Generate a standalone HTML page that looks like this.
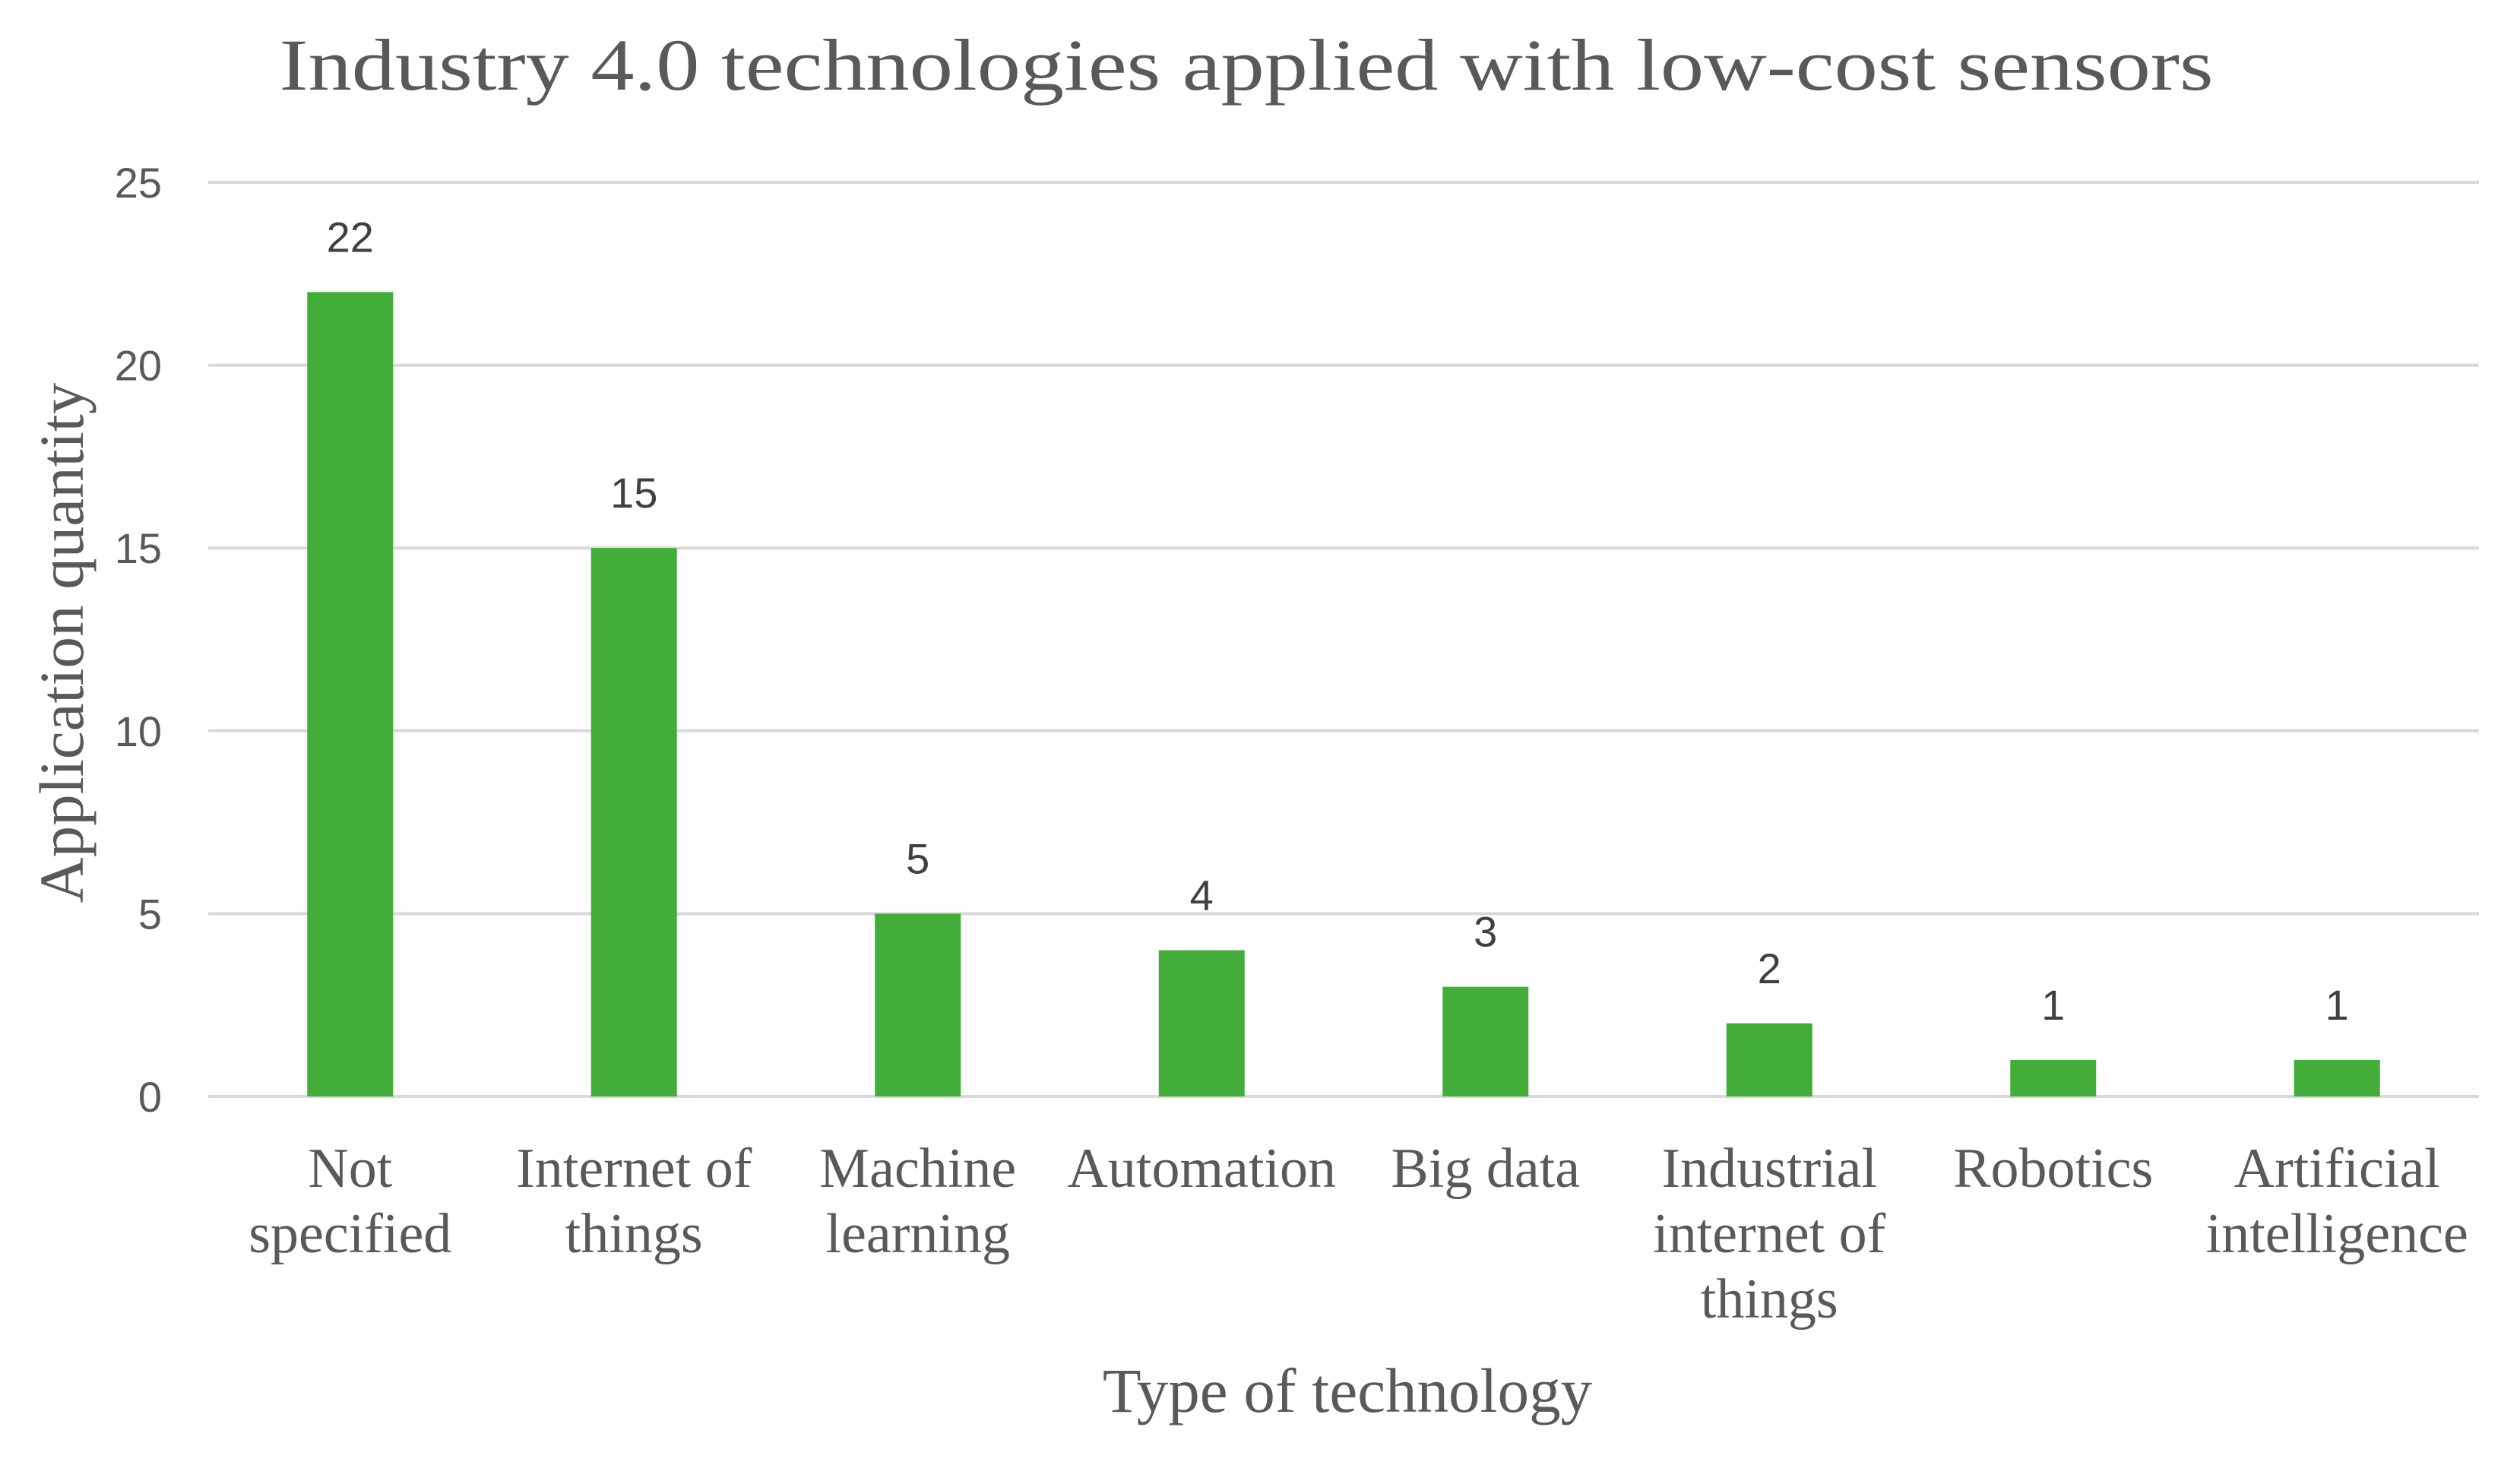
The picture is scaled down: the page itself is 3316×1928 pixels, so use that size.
<!DOCTYPE html>
<html><head><meta charset="utf-8"><style>
html,body{margin:0;padding:0;background:#fff;}
svg{display:block;}
</style></head><body>
<svg id="chart" width="3316" height="1928" viewBox="0 0 3316 1928" xmlns="http://www.w3.org/2000/svg">
<rect x="0" y="0" width="3316" height="1928" fill="#fff"/>
<text x="1640" y="118" text-anchor="middle" font-family="Liberation Serif, serif" font-size="96" fill="#595959" textLength="2545" lengthAdjust="spacingAndGlyphs">Industry 4.0 technologies applied  with low-cost sensors</text>
<g id="grid"></g>
<g id="yticks"></g>
<g id="bars"></g>
<g id="vals"></g>
<g id="xlabels"></g>
<text x="81" y="846" transform="rotate(-90 81 846)" text-anchor="middle" dominant-baseline="central" font-family="Liberation Serif, serif" font-size="83" fill="#595959">Application quantity</text>
<text x="1773" y="1858" text-anchor="middle" font-family="Liberation Serif, serif" font-size="83" fill="#595959">Type of technology</text>
</svg>
<script>
const categories = [["Not","specified"],["Internet of","things"],["Machine","learning"],["Automation"],["Big data"],["Industrial","internet of","things"],["Robotics"],["Artificial","intelligence"]];
const values = [22,15,5,4,3,2,1,1];
const yTicks = [0,5,10,15,20,25];

const NS="http://www.w3.org/2000/svg";
const left=274, right=3262, y0=1443, yTop=240, yMax=25;
function yScale(v){return y0-(v/yMax)*(y0-yTop);}
const band=(right-left)/categories.length;
function xCenter(i){return left+band*(i+0.5);}
const barW=113;
function mk(tag,attrs,parent){const e=document.createElementNS(NS,tag);for(const k in attrs)e.setAttribute(k,attrs[k]);parent.appendChild(e);return e;}
const grid=document.getElementById('grid'),yt=document.getElementById('yticks'),bars=document.getElementById('bars'),vals=document.getElementById('vals'),xl=document.getElementById('xlabels');
yTicks.forEach(t=>{
  const l=mk('line',{x1:left,x2:right,y1:yScale(t),y2:yScale(t),stroke:'#d9d9d9','stroke-width':4},grid);
  
  
  const tx=mk('text',{x:213,y:yScale(t)+20,'text-anchor':'end','font-family':'Liberation Sans, sans-serif','font-size':56,fill:'#595959'},yt);
  tx.textContent=t;
  
  
});
values.forEach((v,i)=>{
  const cx=xCenter(i);
  const r=mk('rect',{x:cx-barW/2,y:yScale(v),width:barW,height:y0-yScale(v),fill:'#43ad3a'},bars);
  
  
  const t=mk('text',{x:cx,y:yScale(v)-53,'text-anchor':'middle','font-family':'Liberation Sans, sans-serif','font-size':56,fill:'#404040'},vals);
  t.textContent=v;
  
  
  const g=mk('text',{x:cx,y:1562,'text-anchor':'middle','font-family':'Liberation Serif, serif','font-size':74,fill:'#595959'},xl);
  
  
  categories[i].forEach((line,j)=>{
    const s=mk('tspan',{x:cx,dy:j===0?0:86},g);
    s.textContent=line;
  });
});
</script>
</body></html>
